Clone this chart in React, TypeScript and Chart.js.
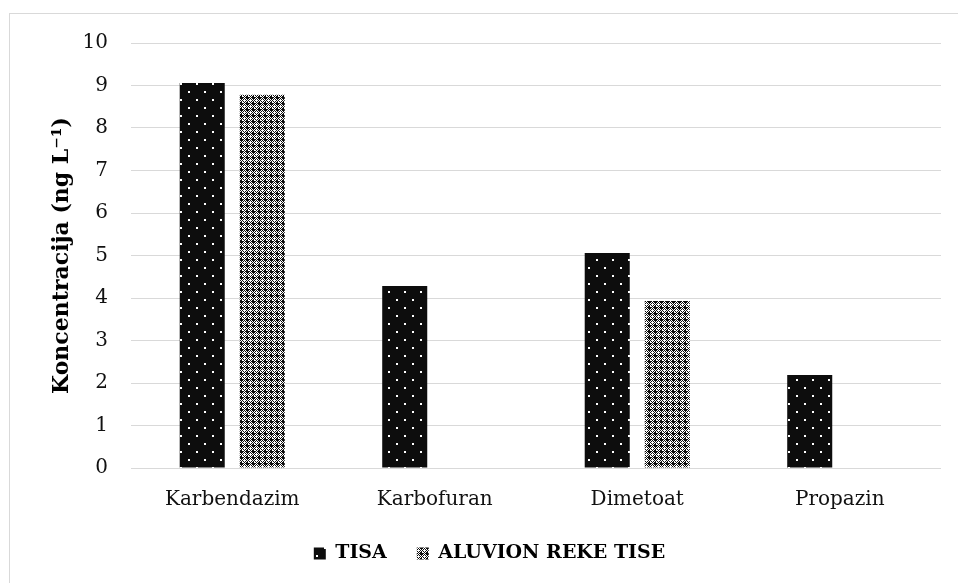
import React, { useEffect, useRef } from "react";
import { Chart, registerables } from "chart.js";

Chart.register(...registerables);

const categories = ["Karbendazim", "Karbofuran", "Dimetoat", "Propazin"];
const tisaValues = [9.06, 4.28, 5.06, 2.19];
const aluvionValues: (number | null)[] = [8.78, null, 3.93, null];
const seriesNames = ["TISA", "ALUVION REKE TISE"];
const yTitle = "Koncentracija (ng L\u207B\u00B9)";

const FONT = "'DejaVu Serif', 'Liberation Serif', serif";

function dotPattern(): CanvasPattern | string {
  const c = document.createElement("canvas");
  c.width = 16;
  c.height = 16;
  const ctx = c.getContext("2d");
  if (!ctx) return "#0d0d0d";
  ctx.fillStyle = "#0d0d0d";
  ctx.fillRect(0, 0, 16, 16);
  ctx.fillStyle = "#ffffff";
  ctx.fillRect(4, 3, 2, 2);
  ctx.fillRect(12, 11, 2, 2);
  return ctx.createPattern(c, "repeat") || "#0d0d0d";
}

function weavePattern(): CanvasPattern | string {
  const rows = [
    "BBWWBW",
    "BBBBWB",
    "BBBWBW",
    "WBWBWB",
    "BWBWWW",
    "WBWBWB",
  ];
  const c = document.createElement("canvas");
  c.width = 6;
  c.height = 6;
  const ctx = c.getContext("2d");
  if (!ctx) return "#555";
  for (let y = 0; y < 6; y++) {
    for (let x = 0; x < 6; x++) {
      ctx.fillStyle = rows[y][x] === "B" ? "#0d0d0d" : "#ffffff";
      ctx.fillRect(x, y, 1, 1);
    }
  }
  return ctx.createPattern(c, "repeat") || "#555";
}

export default function App() {
  const ref = useRef<HTMLCanvasElement>(null);

  useEffect(() => {
    document.body.style.margin = "0";
    if (!ref.current) return;
    const p1 = dotPattern();
    const p2 = weavePattern();
    const chart = new Chart(ref.current, {
      type: "bar",
      data: {
        labels: categories,
        datasets: [
          {
            label: seriesNames[0],
            data: tisaValues,
            backgroundColor: p1 as any,
            borderWidth: 0,
            categoryPercentage: 0.593,
            barPercentage: 0.75,
          },
          {
            label: seriesNames[1],
            data: aluvionValues,
            backgroundColor: p2 as any,
            borderWidth: 0,
            categoryPercentage: 0.593,
            barPercentage: 0.75,
          },
        ],
      },
      options: {
        responsive: false,
        animation: false,
        layout: { padding: { top: 43, left: 38, right: 17, bottom: 10 } },
        plugins: {
          tooltip: { enabled: false },
          legend: {
            position: "bottom",
            labels: {
              boxWidth: 12,
              boxHeight: 12,
              padding: 30,
              color: "#000",
              font: { family: FONT, size: 19, weight: "bold" },
            },
          },
        },
        scales: {
          x: {
            grid: { display: false, drawTicks: false },
            border: { display: false },
            ticks: {
              color: "#111",
              padding: 20,
              font: { family: FONT, size: 20 },
            },
            afterFit: (s: any) => {
              s.height = 46;
            },
          },
          y: {
            min: 0,
            max: 10,
            ticks: {
              stepSize: 1,
              color: "#111",
              padding: 23,
              font: { family: FONT, size: 20 },
            },
            grid: { color: "#d9d9d9", lineWidth: 1, drawTicks: false },
            border: { display: false },
            title: {
              display: true,
              text: yTitle,
              color: "#000",
              padding: { top: 11, bottom: 0 },
              font: { family: FONT, size: 22, weight: "bold" },
            },
            afterFit: (s: any) => {
              s.width = 93;
            },
          },
        },
      },
    });
    return () => chart.destroy();
  }, []);

  return (
    <div style={{ position: "absolute", left: 0, top: 0, width: 958, height: 583, background: "#fff", overflow: "hidden" }}>
      <div
        style={{
          position: "absolute",
          left: 9,
          top: 13,
          width: 960,
          height: 600,
          borderTop: "1px solid #d9d9d9",
          borderLeft: "1px solid #d9d9d9",
          boxSizing: "border-box",
        }}
      />
      <canvas ref={ref} width={958} height={583} style={{ position: "absolute", left: 0, top: 0 }} />
    </div>
  );
}
